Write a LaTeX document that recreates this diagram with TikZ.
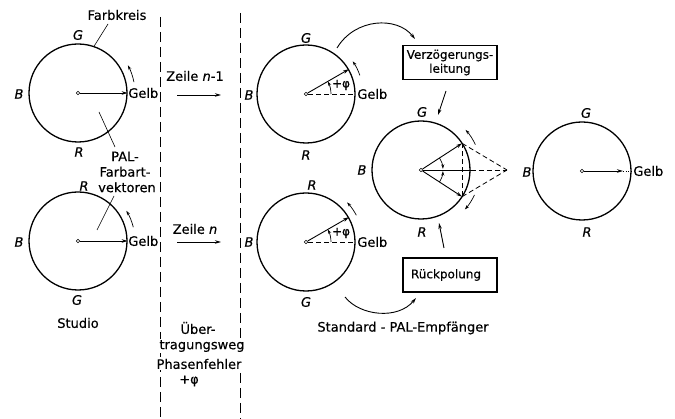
\documentclass[tikz,border=0pt]{standalone}
\usepackage{fontspec}
\setmainfont{DejaVu Sans}[FakeBold=0.4]
\newfontfamily\plainfont{DejaVu Sans}[FakeBold=1]
\usetikzlibrary{arrows.meta,calc}
\begin{document}
\begin{tikzpicture}[x=1pt,y=-1pt,
 every node/.style={font=\fontsize{13}{15.5}\selectfont, inner sep=1pt},
 ring/.style={draw, circle, minimum size=98pt, inner sep=0pt, line width=1.3pt},
 orig/.style={draw, circle, minimum size=3.5pt, inner sep=0pt, line width=0.6pt, fill=white},
 lab/.style={font=\fontsize{13}{15}\selectfont\itshape},
 vec/.style={line width=0.9pt, -{Stealth[length=6pt,width=3.5pt]}},
 arr/.style={line width=0.9pt, -{Stealth[length=6pt,width=3.5pt]}},
 small/.style={line width=0.7pt, -{Stealth[length=4.5pt,width=3pt]}},
 sep/.style={line width=0.9pt, dash pattern=on 10pt off 5pt},
 dsh/.style={line width=0.8pt, dash pattern=on 5pt off 3pt},
 box/.style={draw, line width=1.4pt, rectangle, font=\fontsize{12}{14}\selectfont, align=center, inner sep=2pt},
 txt/.style={fill=white, inner sep=1pt},
 phi/.style={font=\fontsize{12}{14}\selectfont, inner sep=0.5pt},
]
\useasboundingbox (0,0) rectangle (675,419);

% separators
\coordinate (s1t) at (160,17);
\coordinate (s1b) at (160,419);
\coordinate (s2t) at (240,13);
\coordinate (s2b) at (240,419);
\draw[sep] (s1t) -- (s1b);
\draw[sep] (s2t) -- (s2b);

% ---------- Studio, top ----------
\node[ring] (c1) at (78,93) {};
\node[orig] (o1) at (c1.center) {};
\draw[vec] (o1) -- (c1.east);
\node[anchor=west, inner sep=0.5pt] (g1) at (c1.east) {Gelb};
\node[lab] (G1) at (78,35) {G};
\node[lab] (B1) at (19,94) {B};
\node[lab] (R1) at (79,152) {R};
\draw[small] ($(o1)+(11:57pt)$) arc[start angle=11, end angle=29, radius=57pt];
\node (fk) at (117,15) {Farbkreis};
\coordinate (fkl) at (108,24);
\draw[line width=0.6pt] (fkl) -- (c1.71);

% ---------- Studio, bottom ----------
\node[ring] (c2) at (78,241) {};
\node[orig] (o2) at (c2.center) {};
\draw[vec] (o2) -- (c2.east);
\node[anchor=west, inner sep=0.5pt] (g2) at (c2.east) {Gelb};
\node[lab] (R2) at (84,186) {R};
\node[lab] (B2) at (19,242) {B};
\node[lab] (G2) at (77,300) {G};
\draw[small] ($(o2)+(14:57pt)$) arc[start angle=14, end angle=32, radius=57pt];
\node (st) at (78,323) {Studio};

\node[align=center, inner sep=0pt, fill=white] (pal) at (125,172) {PAL-\\Farbart-\\\hspace*{4pt}vektoren};
\coordinate (pa1) at (115,147);
\coordinate (pa2) at (99,112);
\coordinate (pb1) at (114,196);
\coordinate (pb2) at (97,230);
\draw[line width=0.6pt] (pa1) -- (pa2);
\draw[line width=0.6pt] (pb1) -- (pb2);

% ---------- transmission ----------
\node (z1) at (195,76) {Zeile \textit{n}-1};
\coordinate (za1) at (177,95);
\coordinate (zb1) at (221,95);
\draw[arr] (za1) -- (zb1);
\node (z2) at (195,229) {Zeile \textit{n}};
\coordinate (za2) at (177,242);
\coordinate (zb2) at (221,242);
\draw[arr] (za2) -- (zb2);
\node[txt] (u1) at (198,328) {Über-};
\node[txt] (u2) at (202,346) {tragungsweg};
\node[txt] (u3) at (199,364) {Phasenfehler};
\node[txt] (u4) at (189,381) {+φ};

% ---------- receiver, top ----------
\node[ring] (c3) at (306,94) {};
\node[orig] (o3) at (c3.center) {};
\draw[dsh] (o3) -- (c3.east);
\draw[vec] (o3) -- (c3.30);
\draw[small] ($(o3)+(0:25pt)$) arc[start angle=0, end angle=30, radius=25pt];
\node[phi] (p3) at (341,85) {+φ};
\node[anchor=west, inner sep=1.5pt] (g3) at (c3.east) {Gelb};
\node[lab] (G3) at (306,38) {G};
\node[lab] (B3) at (249,95) {B};
\node[lab] (R3) at (306,155) {R};
\draw[small] ($(o3)+(19:57pt)$) arc[start angle=19, end angle=35, radius=57pt];

% ---------- receiver, bottom ----------
\node[ring] (c4) at (306,242) {};
\node[orig] (o4) at (c4.center) {};
\draw[dsh] (o4) -- (c4.east);
\draw[vec] (o4) -- (c4.30);
\draw[small] ($(o4)+(0:25pt)$) arc[start angle=0, end angle=30, radius=25pt];
\node[phi] (p4) at (341,233) {+φ};
\node[anchor=west, inner sep=1.5pt] (g4) at (c4.east) {Gelb};
\node[lab] (R4) at (312,185) {R};
\node[lab] (B4) at (249,242) {B};
\node[lab] (G4) at (306,302) {G};
\draw[small] ($(o4)+(28:57pt)$) arc[start angle=28, end angle=44, radius=57pt];
\node (spe) at (403,328) {Standard - PAL-Empfänger};

% ---------- boxes ----------
\node[box, minimum width=94pt, minimum height=34pt] (vz) at (450,62.5) {Verzögerungs-\\leitung};
\node[box, minimum width=94pt, minimum height=34pt] (rp) at (450,275) {Rückpolung\hspace*{8pt}};
\coordinate (a1s) at (337,48);
\coordinate (a1e) at (415,39);
\draw[arr] (a1s) .. controls (355,18) and (397,16) .. (a1e);
\coordinate (a2s) at (345,297);
\coordinate (a2e) at (416,298);
\draw[arr] (a2s) .. controls (360,316) and (398,320) .. (a2e);
\coordinate (v1s) at (446,91);
\coordinate (v1e) at (438,115);
\draw[arr] (v1s) -- (v1e);
\coordinate (r1s) at (444,248);
\coordinate (r1e) at (439,223);
\draw[arr] (r1s) -- (r1e);

% ---------- receiver, sum ----------
\node[ring] (c5) at (421,170) {};
\node[orig] (o5) at (c5.center) {};
\node[lab] (G5) at (422,112) {G};
\node[lab] (B5) at (362,170) {B};
\node[lab] (R5) at (422,232) {R};
\coordinate (t5) at (507,170);
\coordinate (u5) at ($(o5)+(33:49pt)$);
\coordinate (d5) at ($(o5)+(-33:49pt)$);
\coordinate (m5) at (c5.east);
\draw[vec] (o5) -- (u5);
\draw[vec] (o5) -- (d5);
\draw[line width=0.8pt] (o5) -- (m5);
\draw[dsh] (u5) -- (d5);
\draw[dsh] (u5) -- (t5);
\draw[dsh] (d5) -- (t5);
\draw[dsh] (m5) -- (t5);
\draw[small] ($(o5)+(33:22pt)$) arc[start angle=33, end angle=3, radius=22pt];
\draw[small] ($(o5)+(-33:22pt)$) arc[start angle=-33, end angle=-3, radius=22pt];
\draw[small] ($(o5)+(25:60pt)$) arc[start angle=25, end angle=42, radius=60pt];
\draw[small] ($(o5)+(-25:59pt)$) arc[start angle=-25, end angle=-42, radius=59pt];

% ---------- result ----------
\node[ring] (c6) at (582,171) {};
\node[orig] (o6) at (c6.center) {};
\coordinate (e6) at ($(o6)+(41pt,0)$);
\draw[vec] (o6) -- (e6);
\draw[line width=0.6pt, dotted] (e6) -- (c6.east);
\node[anchor=west, inner sep=1.5pt] (g6) at (c6.east) {Gelb};
\node[lab] (G6) at (586,113) {G};
\node[lab] (B6) at (527,172) {B};
\node[lab] (R6) at (587,232) {R};
\end{tikzpicture}
\end{document}
